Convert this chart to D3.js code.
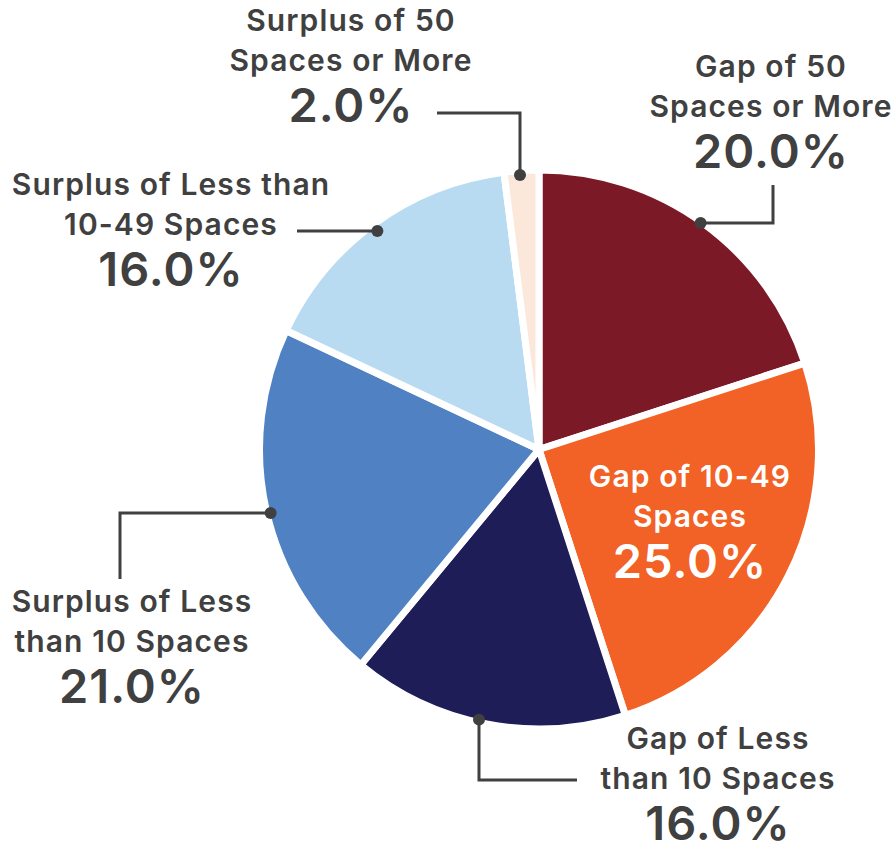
<!DOCTYPE html>
<html>
<head>
<meta charset="utf-8">
<script src="https://cdn.jsdelivr.net/npm/d3@7"></script>
<style>
  html, body { margin: 0; padding: 0; background: #ffffff; }
  svg { display: block; }
  text { font-family: Inter, "Noto Sans", sans-serif; }
</style>
</head>
<body>
<svg id="chart" width="896" height="848"></svg>
<script>
// ---- data ----
const categories = [
  "Gap of 50 Spaces or More",
  "Gap of 10-49 Spaces",
  "Gap of Less than 10 Spaces",
  "Surplus of Less than 10 Spaces",
  "Surplus of Less than 10-49 Spaces",
  "Surplus of 50 Spaces or More"
];
const values = [20.0, 25.0, 16.0, 21.0, 16.0, 2.0];
const labelLines = [
  ["Gap of 50", "Spaces or More"],
  ["Gap of 10-49", "Spaces"],
  ["Gap of Less", "than 10 Spaces"],
  ["Surplus of Less", "than 10 Spaces"],
  ["Surplus of Less than", "10-49 Spaces"],
  ["Surplus of 50", "Spaces or More"]
];
const colors = ["#7c1927", "#f26125", "#1e1d57", "#5082c3", "#b8dbf2", "#fbe8da"];

// ---- layout (label anchors and leader elbows) ----
const cx = 539, cy = 449.5, R = 279.5;
const labelLayout = [
  { x: 771, y: 77,  fill: "#404040", leader: [[773, 223], [773, 185]] },
  { x: 690, y: 487, fill: "#ffffff", leader: null },
  { x: 718, y: 749, fill: "#404040", leader: [[479, 780], [577, 780]] },
  { x: 132, y: 612, fill: "#404040", leader: [[120, 513], [120, 579]] },
  { x: 171, y: 195, fill: "#404040", leader: [[297, 231]] },
  { x: 351, y: 31,  fill: "#404040", leader: [[520, 113], [437, 113]] }
];

const svg = d3.select("#chart");
const g = svg.append("g").attr("transform", `translate(${cx},${cy})`);

const pie = d3.pie().sort(null).value(d => d)(values);
const arc = d3.arc().innerRadius(0).outerRadius(R);
const dotArc = d3.arc().innerRadius(275).outerRadius(275);

g.selectAll("path.slice")
  .data(pie)
  .join("path")
  .attr("class", "slice")
  .attr("d", arc)
  .attr("fill", (d, i) => colors[i])
  .attr("stroke", "#ffffff")
  .attr("stroke-width", 7)
  .attr("stroke-linejoin", "miter");

const fmt = d3.format(".1f");
const lineColor = "#404040";

pie.forEach((d, i) => {
  const L = labelLayout[i];
  if (L.leader) {
    const c = dotArc.centroid(d);
    const p0 = [cx + c[0], cy + c[1]];
    const pts = [p0].concat(L.leader);
    const e = L.leader[0];
    if (Math.abs(e[0] - p0[0]) < Math.abs(e[1] - p0[1])) pts[0] = [e[0], p0[1]]; else pts[0] = [p0[0], e[1]];
    svg.append("path")
      .attr("d", d3.line()(pts))
      .attr("fill", "none")
      .attr("stroke", lineColor)
      .attr("stroke-width", 3);
    svg.append("circle")
      .attr("cx", pts[0][0]).attr("cy", pts[0][1]).attr("r", 6)
      .attr("fill", lineColor);
  }
  const t = svg.append("text")
    .attr("text-anchor", "middle")
    .attr("fill", L.fill);
  labelLines[i].forEach((ln, k) => {
    t.append("tspan").attr("x", L.x).attr("y", L.y + k * 40)
      .attr("font-size", 30).attr("font-weight", 600)
      .attr("letter-spacing", 1.1).text(ln);
  });
  t.append("tspan").attr("x", L.x).attr("y", L.y + 91)
    .attr("font-size", 47).attr("font-weight", 600)
    .attr("letter-spacing", 1).text(fmt(values[i]) + "%");
});
</script>
</body>
</html>
